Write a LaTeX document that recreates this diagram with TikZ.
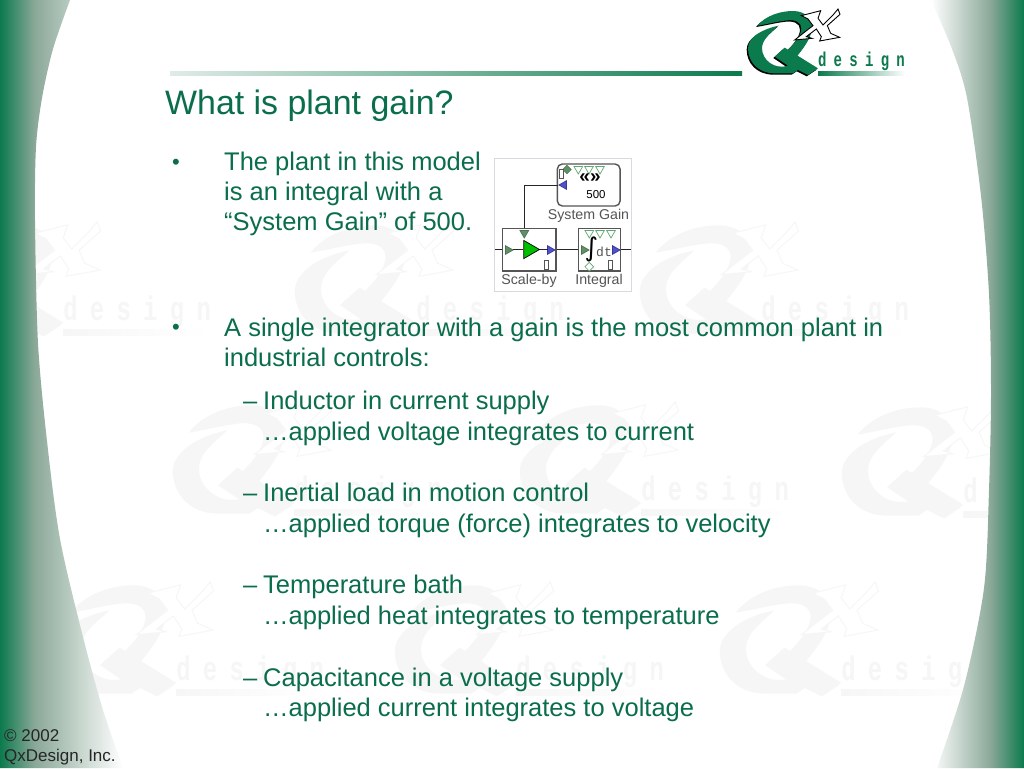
\documentclass[tikz,border=0pt]{standalone}
\usepackage{fontspec}
\setmainfont{Liberation Sans}
\newfontfamily\qxfont[LetterSpace=52]{Liberation Mono}
\newfontfamily\dtfont{Liberation Mono}
\newfontfamily\symfont{DejaVu Sans}
\usetikzlibrary{shapes.geometric}

\definecolor{bandgreen}{HTML}{0B7A4D}
\definecolor{bandmid}{HTML}{8AA898}
\definecolor{textgreen}{HTML}{0A6E4B}
\definecolor{rulepale}{HTML}{E0ECE6}
\definecolor{wmgray}{HTML}{F5F6F5}
\definecolor{diagray}{HTML}{555555}
\definecolor{portgreen}{HTML}{5F9068}
\definecolor{hollowgreen}{HTML}{5FA870}
\definecolor{portblue}{HTML}{5050D0}

\pgfdeclarehorizontalshading{leftband}{100bp}{color(0bp)=(bandgreen); color(25bp)=(bandgreen); color(39bp)=(bandmid); color(75bp)=(white); color(100bp)=(white)}
\pgfdeclarehorizontalshading{rightband}{100bp}{color(0bp)=(white); color(25bp)=(white); color(57bp)=(bandmid); color(75bp)=(bandgreen); color(100bp)=(bandgreen)}

\tikzset{
	titletext/.style={anchor=base west, inner sep=0pt, text=textgreen, font=\fontsize{33.9}{36}\selectfont},
	bodytext/.style={anchor=base west, inner sep=0pt, text=textgreen, font=\fontsize{25.5}{30}\selectfont},
	bullettext/.style={anchor=base west, inner sep=0pt, text=textgreen, font=\fontsize{22}{24}\selectfont},
	smalltext/.style={anchor=base west, inner sep=0pt, text=black!85, font=\fontsize{17}{20}\selectfont},
	block/.style={draw=diagray, line width=1.4pt, inner sep=0pt},
	wire/.style={line width=0.9pt, black!85},
	blocklabel/.style={inner sep=0pt, text=diagray, font=\fontsize{14.2}{16}\selectfont},
	porttri/.style={regular polygon, regular polygon sides=3, inner sep=0pt, minimum size=10pt, line width=0.7pt},
	solidport/.style={porttri, draw=portgreen!80!black, fill=portgreen},
	hollowport/.style={porttri, draw=hollowgreen, fill=white, shape border rotate=180},
	blueport/.style={porttri, draw=portblue!70!black, fill=portblue},
	tinybox/.style={draw=diagray, line width=0.8pt, fill=white, inner sep=0pt, minimum width=4.5pt, minimum height=8.5pt},
	portdiamond/.style={diamond, inner sep=0pt, minimum size=9pt, line width=0.7pt}
}

% name, origin, scale, Q colour, shadow, X fill, X line, underline end
\newcommand{\qxpaths}{(122,62) .. controls (75,72) and (30,95) .. (30,130) .. controls (30,170) and (60,205) .. (110,205) -- (165,205) -- (180,195) -- (210,210) -- (240,190) -- (140,128) -- (110,155) -- (150,182) .. controls (110,195) and (72,165) .. (72,130) .. controls (72,105) and (95,85) .. (122,62) -- cycle
	(58,62) .. controls (85,30) and (130,18) .. (165,18) .. controls (205,18) and (225,45) .. (222,72) .. controls (218,100) and (200,125) .. (178,152) -- (150,134) .. controls (170,115) and (190,90) .. (190,70) .. controls (190,50) and (170,42) .. (140,47) .. controls (115,50) and (85,58) .. (58,62) -- cycle}
\newcommand{\qxmark}[7]{
	\begin{scope}[shift={(#2)}, scale=#3, shift={(-21,-21)}]
		\fill[#5, shift={(-4,4)}] \qxpaths;
		\fill[#4] \qxpaths;
		\filldraw[fill=#6, draw=#7, line width=0.9pt] (190,32) -- (248,17) -- (240,40) -- (255,60) -- (285,30) -- (300,12) -- (306,28) -- (268,62) -- (278,85) -- (305,97) -- (245,108) -- (250,95) -- (235,72) -- (205,95) -- (222,100) -- (170,105) -- (195,85) -- (225,62) -- (210,42) -- cycle;
		\node[transform shape, xscale=0.7, anchor=base west, inner sep=0pt, text=#4, font=\qxfont\bfseries\fontsize{60}{60}\selectfont] (#1text) at (240,186) {design};
		\shade[left color=#4, right color=#6] (240,201) rectangle (501,213);
	\end{scope}
}

\begin{document}
\begin{tikzpicture}[x=1pt, y=-1pt]
	\useasboundingbox (0,0) rectangle (1024,768);
	\fill[white] (0,0) rectangle (1024,768);

	\foreach \wx/\wy [count=\wn] in {-61/227, 292/227, 637/227, 170/407, 517/407, 839/409, 52/587, 392/587, 717/587}
		\qxmark{wm\wn}{\wx,\wy}{0.567}{wmgray}{wmgray}{white}{wmgray};

	\path[shading=leftband] (0,768) -- (0,0) -- plot[smooth] coordinates {(70,0) (53,49) (42,98) (36,147) (35,220) (38,343) (47,441) (60,539) (83,637) (103,710) (123,768)} -- cycle;
	\path[shading=rightband] (1024,768) -- (1024,0) -- plot[smooth] coordinates {(931,0) (952,49) (967,98) (981,196) (989,294) (991,392) (989,490) (984,588) (964,686) (937,768)} -- cycle;

	\shade[left color=rulepale, right color=bandgreen] (170,71) rectangle (742,75.5);
	\qxmark{logo}{745,12}{0.3333}{bandgreen}{black}{white}{black}

	\node[titletext] (title) at (165,114) {What is plant gain?};

	\node[bullettext] (bulletA) at (172,169) {•};
	\node[bodytext] (plantA) at (224,170) {The plant in this model};
	\node[bodytext] (plantB) at (224,200) {is an integral with a};
	\node[bodytext] (plantC) at (224,230) {“System Gain” of 500.};

	\node[bullettext] (bulletB) at (172,334) {•};
	\node[bodytext] (commonA) at (224,336) {A single integrator with a gain is the most common plant in};
	\node[bodytext] (commonB) at (224,366) {industrial controls:};

	\node[bodytext] (dashA) at (243,409) {–};
	\node[bodytext] (inductorA) at (263,409) {Inductor in current supply};
	\node[bodytext] (inductorB) at (263,440) {…applied voltage integrates to current};
	\node[bodytext] (dashB) at (243,501) {–};
	\node[bodytext] (inertiaA) at (263,501) {Inertial load in motion control};
	\node[bodytext] (inertiaB) at (263,532) {…applied torque (force) integrates to velocity};
	\node[bodytext] (dashC) at (243,593.5) {–};
	\node[bodytext] (bathA) at (263,593.5) {Temperature bath};
	\node[bodytext] (bathB) at (263,624) {…applied heat integrates to temperature};
	\node[bodytext] (dashD) at (243,686) {–};
	\node[bodytext] (capA) at (263,686) {Capacitance in a voltage supply};
	\node[bodytext] (capB) at (263,716) {…applied current integrates to voltage};

	\node[smalltext] (copyA) at (4,741) {© 2002};
	\node[smalltext] (copyB) at (4,761) {QxDesign, Inc.};

	% model picture
	\node[draw=blue!20!black!15, fill=white, line width=0.8pt, minimum width=137pt, minimum height=133pt, inner sep=0pt] (panel) at (563,224.5) {};
	\node[block, rounded corners=5pt, minimum width=62.7pt, minimum height=42pt] (gain) at (588.7,185) {};
	\node[block, minimum width=53.3pt, minimum height=42.7pt] (scaleby) at (529.3,249.7) {};
	\node[block, minimum width=42pt, minimum height=42.7pt] (integral) at (599.7,249.7) {};
	\node[blocklabel] (gainlabel) at (588.5,215.7) {System Gain};
	\node[blocklabel] (scalelabel) at (529,280.7) {Scale-by};
	\node[blocklabel] (integrallabel) at (599,280.7) {Integral};

	\node[diamond, draw=portgreen!80!black, fill=portgreen, inner sep=0pt, minimum size=9pt] (gainmode) at (567,169.5) {};
	\node[hollowport] (gaintopA) at (578.3,169) {};
	\node[hollowport] (gaintopB) at (589,169) {};
	\node[hollowport] (gaintopC) at (600,169) {};
	\node[tinybox] (gainbox) at (561.2,174) {};
	\node[blueport, shape border rotate=90] (gainport) at (564,185) {};
	\node[inner sep=0pt, font=\bfseries\fontsize{19}{19}\selectfont] (gainsign) at (590,178.5) {«»};
	\node[inner sep=0pt, font=\fontsize{11.5}{12}\selectfont] (gainvalue) at (596,195) {500};

	\node[solidport, shape border rotate=-90] (scalein) at (508,250) {};
	\node[blueport, shape border rotate=-90] (scaleout) at (550,250) {};
	\node[solidport, shape border rotate=180] (scaletop) at (524.3,233) {};
	\node[tinybox] (scalebox) at (546.2,264.8) {};
	\node[regular polygon, regular polygon sides=3, shape border rotate=-90, draw=black, fill=green!75!black, line width=0.7pt, inner sep=0pt, minimum size=21pt] (scaletri) at (529,249.5) {};
	\draw[wire] (scaletri.west) ++(-10,0) coordinate (scaleleft) -- (scaletri.west);
	\draw[wire] (scaletri.east) -- ++(8,0) coordinate (scaleright);

	\node[solidport, shape border rotate=-90] (integralin) at (584,250) {};
	\node[blueport, shape border rotate=-90] (integralout) at (615,250) {};
	\node[hollowport] (integraltopA) at (589.3,233) {};
	\node[hollowport] (integraltopB) at (600,233) {};
	\node[hollowport] (integraltopC) at (611,233) {};
	\node[portdiamond, draw=hollowgreen, fill=white] (integralmode) at (589.3,266.7) {};
	\node[tinybox] (integralbox) at (610.5,264.8) {};
	\node[inner sep=0pt, font=\symfont\fontsize{26}{26}\selectfont] (integralsign) at (591.3,249.5) {∫};
	\node[inner sep=0pt, text=diagray, font=\dtfont\fontsize{13}{13}\selectfont] (integraldt) at (604,252) {dt};

	\coordinate (leadin) at (495,249.7);
	\coordinate (leadout) at (631,249.7);
	\draw[wire] (leadin) -- (scaleby.west);
	\draw[wire] (scaleby.east) -- (integral.west);
	\draw[wire] (integral.east) -- (leadout);
	\draw[wire] (gainport.west) -| (scaleby.north -| scaletop);
\end{tikzpicture}
\end{document}
